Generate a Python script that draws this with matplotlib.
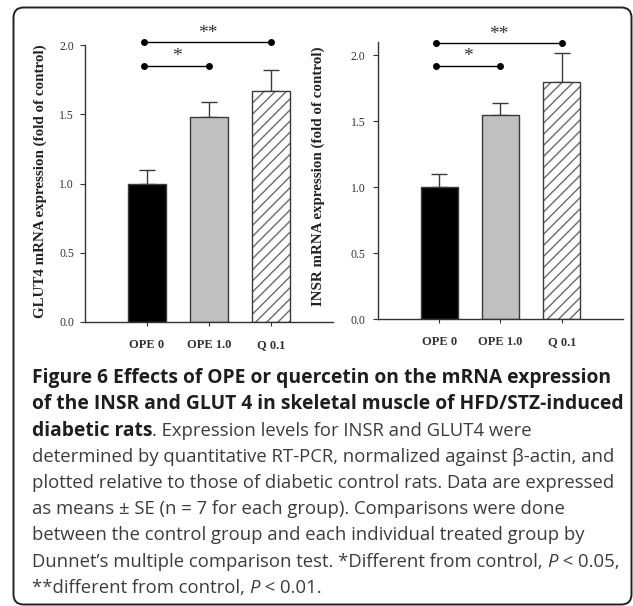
import matplotlib
matplotlib.use("Agg")
import matplotlib.pyplot as plt
from matplotlib.patches import FancyBboxPatch

############# DATA ##############################################

groups = ["OPE 0", "OPE 1.0", "Q 0.1"]

glut4_mean = [1.00, 1.48, 1.67]
glut4_se = [0.10, 0.11, 0.15]

insr_mean = [1.00, 1.55, 1.80]
insr_se = [0.10, 0.09, 0.22]

# significance brackets: (end group index, star text)
brackets = [(2, "**"), (1, "*")]
glut4_bracket_y = [2.02, 1.85]
insr_bracket_y = [2.09, 1.92]

glut4_ylabel = "GLUT4 mRNA expression (fold of control)"
insr_ylabel = "INSR mRNA expression (fold of control)"

caption = [
    [("Figure 6 Effects of OPE or quercetin on the mRNA expression", "b")],
    [("of the INSR and GLUT 4 in skeletal muscle of HFD/STZ-induced", "b")],
    [("diabetic rats", "b"), (". Expression levels for INSR and GLUT4 were", "r")],
    [("determined by quantitative RT-PCR, normalized against \u03b2-actin, and", "r")],
    [("plotted relative to those of diabetic control rats. Data are expressed", "r")],
    [("as means \u00b1 SE (n = 7 for each group). Comparisons were done", "r")],
    [("between the control group and each individual treated group by", "r")],
    [("Dunnet\u2019s multiple comparison test. *Different from control, ", "r"),
     ("P", "i"), (" < 0.05,", "r")],
    [("**different from control, ", "r"), ("P", "i"), (" < 0.01.", "r")],
]

############# PLOTTING ##########################################

W, H = 633, 606
fig = plt.figure(figsize=(W / 100, H / 100), dpi=100)

serif = "Liberation Serif"
edge = "#3a3a3a"


def px_rect(x0, y0, x1, y1):
    return [x0 / W, 1 - y1 / H, (x1 - x0) / W, (y1 - y0) / H]


def bar_panel(rect, means, ses, ymax, yticks, bracket_y, ypad):
    ax = fig.add_axes(rect)
    x = list(range(len(groups)))
    colors = ["black", "#c0c0c0", "white"]
    for i in x:
        if i == 2:
            ax.bar(i, means[i], width=0.6, color="white", edgecolor="#6a6a6a",
                   hatch="///", linewidth=0, zorder=2)
            ax.bar(i, means[i], width=0.6, fill=False, edgecolor=edge,
                   linewidth=1.0, zorder=3)
        else:
            ax.bar(i, means[i], width=0.6, color=colors[i], edgecolor=edge,
                   linewidth=1.0, zorder=2)
    ax.errorbar(x, means, yerr=[[0] * len(ses), ses], fmt="none",
                ecolor=edge, elinewidth=1.0, capsize=5.5, capthick=1.0, zorder=1)

    for (j, star), yb in zip(brackets, bracket_y):
        ax.plot([-0.05, j], [yb, yb], color="black", lw=1.0, marker="o",
                markersize=4, clip_on=False, zorder=4)
        ax.annotate(star, xy=((j - 0.05) / 2, yb), xytext=(0, 0.5),
                    textcoords="offset points", ha="center", va="bottom",
                    fontsize=14, family=serif, color="#333333",
                    annotation_clip=False)

    ax.set_xlim(-1, 3)
    ax.set_ylim(0, ymax)
    ax.set_yticks(yticks)
    ax.set_yticklabels(["%.1f" % t for t in yticks], family=serif, fontsize=8.5)
    ax.set_xticks(x)
    ax.set_xticklabels(groups, family=serif, fontsize=9, fontweight="bold")
    ax.tick_params(axis="y", direction="out", length=3.5, width=0.8,
                   pad=ypad, colors="#333333")
    ax.tick_params(axis="x", direction="out", length=3, width=0.8,
                   pad=9, colors="#333333")
    for s in ["top", "right"]:
        ax.spines[s].set_visible(False)
    for s in ["left", "bottom"]:
        ax.spines[s].set_color("#333333")
        ax.spines[s].set_linewidth(1.0)
    return ax


ax1 = bar_panel(px_rect(85, 45, 333, 322), glut4_mean, glut4_se, 2.0,
                [0.0, 0.5, 1.0, 1.5, 2.0], glut4_bracket_y, 4.5)
ax2 = bar_panel(px_rect(378, 42, 623, 319), insr_mean, insr_se, 2.1,
                [0.0, 0.5, 1.0, 1.5, 2.0], insr_bracket_y, 5.5)

fig.text(40 / W, 1 - 181 / H, glut4_ylabel, rotation=90, ha="center",
         va="center", family=serif, fontsize=10.8, fontweight="bold",
         color="#222222")
fig.text(318 / W, 1 - 176 / H, insr_ylabel, rotation=90, ha="center",
         va="center", family=serif, fontsize=10.8, fontweight="bold",
         color="#222222")

# rounded frame
frame = FancyBboxPatch((13.5 / W, 1 - 604.5 / H), (631.5 - 13.5) / W,
                       (604.5 - 7.5) / H, boxstyle="round,pad=0,rounding_size=0.016",
                       transform=fig.transFigure, fill=False, edgecolor="#222222",
                       linewidth=1.4, mutation_aspect=W / H)
fig.add_artist(frame)

# caption
fig.canvas.draw()
renderer = fig.canvas.get_renderer()
styles = {
    "b": dict(fontweight="bold", color="#1e1e1e", fontsize=13.9),
    "r": dict(fontweight="normal", color="#3c3c3c", fontsize=13.3),
    "i": dict(fontweight="normal", fontstyle="italic", color="#3c3c3c",
              fontsize=13.3),
}
x0, y0, dy = 32, 383, 26.25
for k, line in enumerate(caption):
    xp = x0
    for txt, st in line:
        t = fig.text(xp / W, 1 - (y0 + k * dy) / H, txt, ha="left", va="baseline",
                     family=["Open Sans", "DejaVu Sans"], **styles[st])
        bb = t.get_window_extent(renderer)
        xp += bb.width

fig.savefig("out.png", dpi=100)
